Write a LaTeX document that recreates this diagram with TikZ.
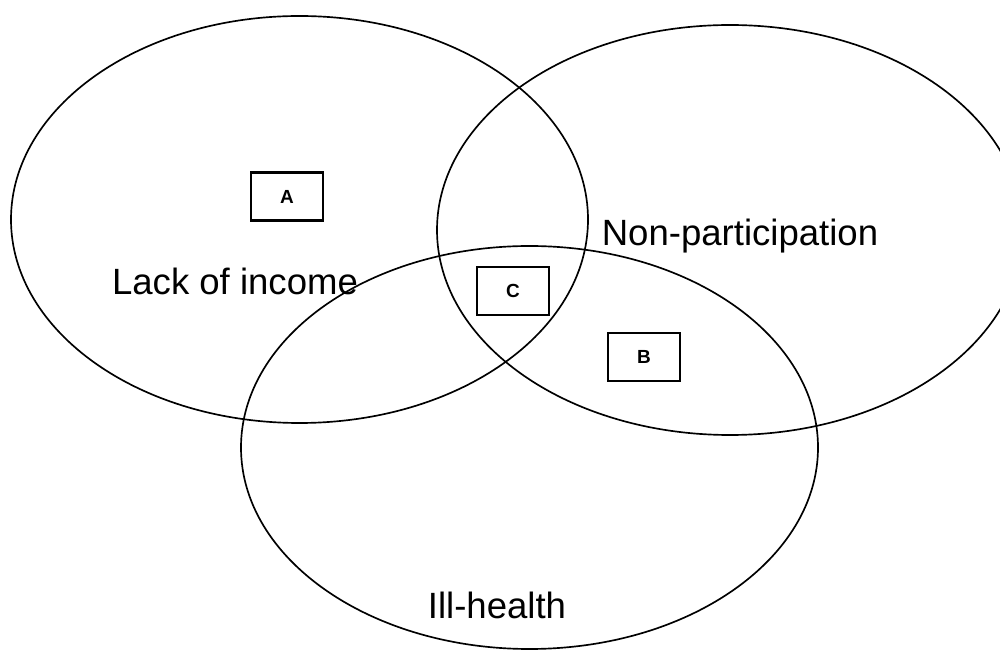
\documentclass[tikz,border=0pt]{standalone}
\usepackage{fontspec}
\setmainfont{Liberation Sans}
\usetikzlibrary{positioning, shapes.geometric}

\begin{document}
\begin{tikzpicture}[venn/.style={draw, ellipse, line width=0.95pt, inner sep=0pt},
  region/.style={draw, line width=1.3pt, minimum width=1.44cm, minimum height=0.96cm, font=\fontsize{10.8}{12}\selectfont\bfseries},
  lbl/.style={anchor=base, inner sep=0pt, font=\fontsize{20.8}{25}\selectfont}]
  \useasboundingbox (0,0) rectangle (20,-13);
  \clip (0,0) rectangle (20,-13);

  % Three sets
  \node[venn, minimum width=11.54cm, minimum height=8.14cm] (income) at (5.99,-4.39) {};
  \node[venn, minimum width=11.72cm, minimum height=8.2cm]  (nonpart) at (14.6,-4.6) {};
  \node[venn, minimum width=11.54cm, minimum height=8.06cm] (health) at (10.59,-8.95) {};

  % Set labels
  \node[lbl] (incomelbl)  at (4.7,-5.9)   {Lack of income};
  \node[lbl] (nonpartlbl) at (14.8,-4.92) {Non-participation};
  \node[lbl] (healthlbl)  at (9.94,-12.36) {Ill-health};

  % Marked regions
  \node[region] (A) at (5.74,-3.93)  {A};
  \node[region] (C) at (10.26,-5.82) {C};
  \node[region] (B) at (12.88,-7.14) {B};
\end{tikzpicture}
\end{document}
